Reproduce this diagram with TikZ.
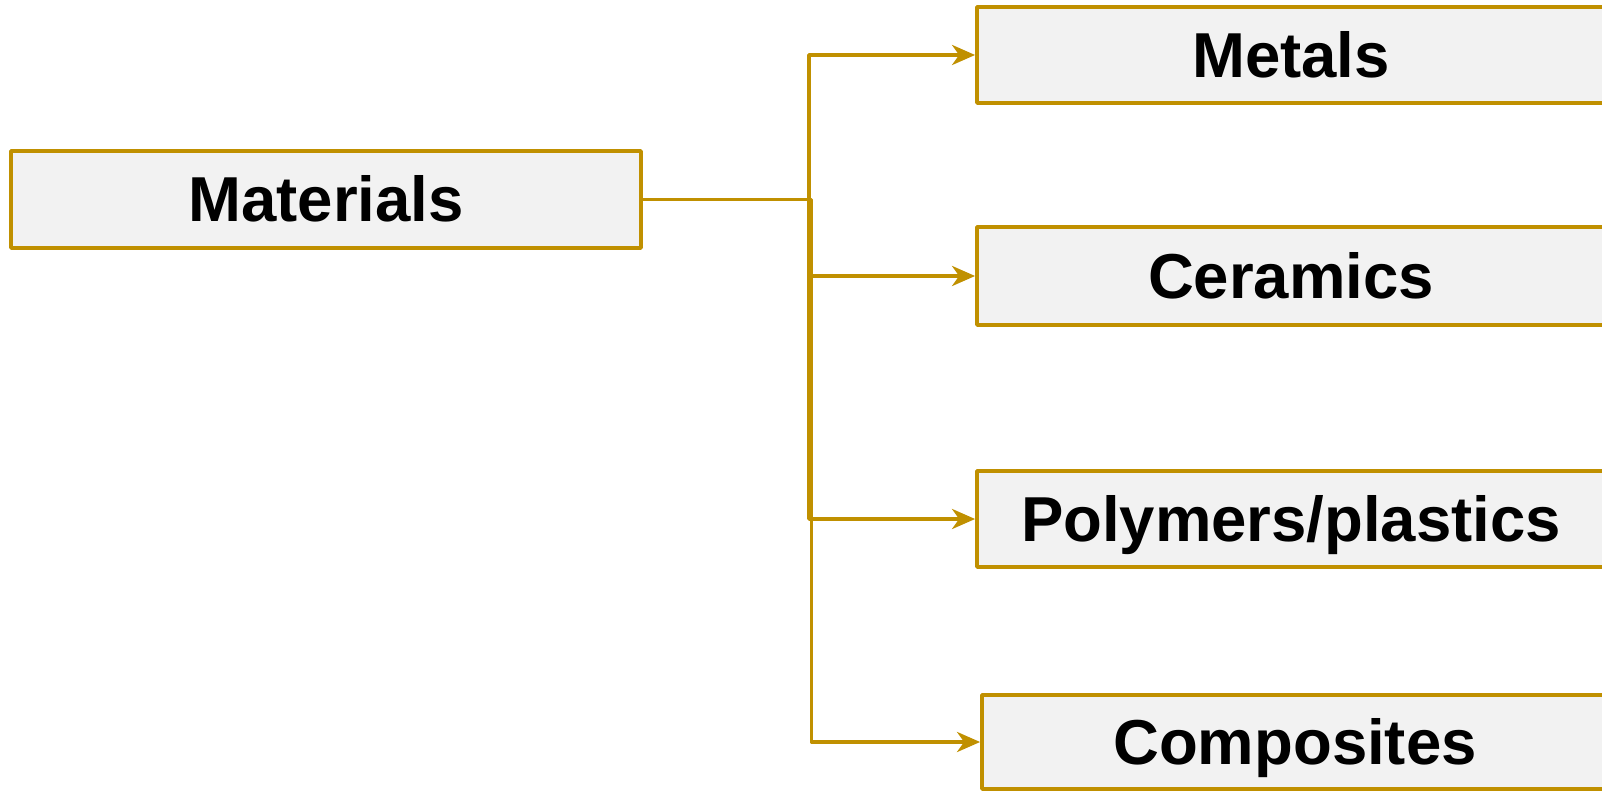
\documentclass[tikz,border=0pt]{standalone}
\usepackage{fontspec}
\setmainfont{Liberation Sans}
\usetikzlibrary{arrows.meta}
\definecolor{gold}{RGB}{192,144,0}
\definecolor{boxfill}{RGB}{242,242,242}
\tikzset{
  matbox/.style={draw=gold, fill=boxfill, line width=3.8pt, line join=round, inner sep=0pt,
    font=\fontsize{63.5}{75}\selectfont\bfseries, text height=45pt, text depth=0pt, align=center},
  conn/.style={draw=gold, line width=3.8pt, line join=round,
    -{Stealth[length=23pt,width=20pt,inset=7pt]}}
}
\begin{document}
\begin{tikzpicture}[x=1pt,y=-1pt]
\useasboundingbox (0,0) rectangle (1602,791);
\node[matbox, minimum width=630pt, minimum height=97pt] (mat) at (326,199.5) {Materials};
\node[matbox, minimum width=628pt, minimum height=96pt] (met) at (1291,55) {Metals};
\node[matbox, minimum width=628pt, minimum height=98pt] (cer) at (1291,276) {Ceramics};
\node[matbox, minimum width=628pt, minimum height=96pt] (pol) at (1291,519) {Polymers/plastics};
\node[matbox, minimum width=626pt, minimum height=94pt] (com) at (1295,742) {Composites};
\coordinate (ja) at (809,199.5);
\coordinate (jc) at (811.5,199.5);
\draw[conn] (mat.east) -- (ja) |- (met.west);
\draw[conn] (mat.east) -- (ja) |- (cer.west);
\draw[conn] (mat.east) -- (ja) |- (pol.west);
\draw[conn] (mat.east) -- (jc) |- (com.west);
\end{tikzpicture}
\end{document}
